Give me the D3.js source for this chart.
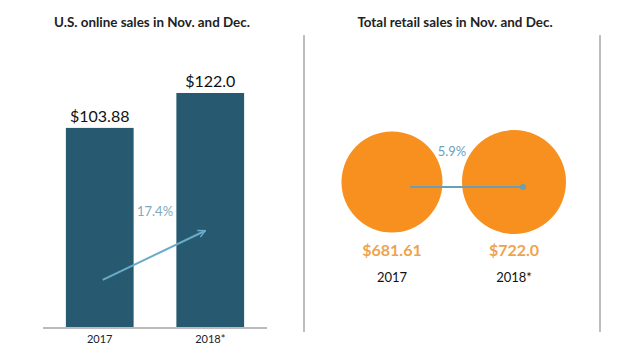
<!DOCTYPE html>
<html><head><meta charset="utf-8">
<script src="https://cdn.jsdelivr.net/npm/d3@7"></script>
<style>body{margin:0;background:#fff}svg{display:block}text{font-family:Lato,"Open Sans",sans-serif}</style>
</head><body>
<svg id="c" width="644" height="357"></svg>
<script>
const years = ["2017", "2018*"];
const onlineSales = [103.88, 122.0];
const onlineLabels = ["$103.88", "$122.0"];
const retailSales = [681.61, 722.0];
const retailLabels = ["$681.61", "$722.0"];
const onlineGrowth = "17.4%";
const retailGrowth = "5.9%";

const svg = d3.select("#c");
const barColor = "#275a70", orange = "#f7901e", blue = "#6aabc9";

// Left panel
const x = d3.scaleBand().domain(years).range([43, 267]).paddingInner(0.387).paddingOuter(0.207);
const y = d3.scaleLinear().domain([0, 122]).range([328, 93]);

svg.append("text").attr("x", 152).attr("y", 27).attr("text-anchor", "middle")
  .attr("font-size", 13.4).attr("font-weight", 700).attr("fill", "#222").text("U.S. online sales in Nov. and Dec.");

svg.selectAll("rect.bar").data(onlineSales).join("rect").attr("class", "bar")
  .attr("x", (d, i) => x(years[i])).attr("width", x.bandwidth())
  .attr("y", d => y(d)).attr("height", d => y(0) - y(d)).attr("fill", barColor);

svg.selectAll("text.blab").data(onlineSales).join("text").attr("class", "blab")
  .attr("x", (d, i) => x(years[i]) + x.bandwidth() / 2).attr("y", d => y(d) - 6)
  .attr("text-anchor", "middle").attr("font-size", 16).attr("fill", "#111")
  .text((d, i) => onlineLabels[i]);

const xAxis = svg.append("g").attr("transform", `translate(0,${y(0)})`)
  .call(d3.axisBottom(x).tickSize(0).tickPadding(7));
xAxis.select(".domain").attr("stroke", "#bbb").attr("stroke-width", 2).attr("d", "M43,0H267");
xAxis.selectAll("text").attr("font-size", 11).attr("fill", "#222").style("font-family", "Lato, sans-serif");

// growth arrow
const defs = svg.append("defs");
defs.append("marker").attr("id", "ah").attr("viewBox", "0 0 10 10").attr("refX", 9).attr("refY", 5)
  .attr("markerWidth", 9).attr("markerHeight", 9).attr("orient", "auto").attr("markerUnits", "userSpaceOnUse")
  .append("path").attr("d", "M1,1L9,5L1,9").attr("fill", "none").attr("stroke", blue).attr("stroke-width", 1.6);
const ax0 = x(years[0]) + x.bandwidth() / 2 + 3, ax1 = x(years[1]) + x.bandwidth() / 2 - 5;
svg.append("line").attr("x1", ax0).attr("y1", y(25)).attr("x2", ax1).attr("y2", y(50.5))
  .attr("stroke", blue).attr("stroke-width", 2).attr("marker-end", "url(#ah)");
svg.append("text").attr("x", (x(years[0]) + x(years[1]) + x.bandwidth()) / 2).attr("y", 216)
  .attr("text-anchor", "middle").attr("font-size", 13).attr("fill", "#7fa9c0").text(onlineGrowth);

// dividers
[304, 600].forEach(px => svg.append("line").attr("x1", px).attr("x2", px).attr("y1", 35).attr("y2", 332)
  .attr("stroke", "#bdbdbd").attr("stroke-width", 2));

// Right panel
svg.append("text").attr("x", 455).attr("y", 27).attr("text-anchor", "middle")
  .attr("font-size", 13.4).attr("font-weight", 700).attr("fill", "#222").text("Total retail sales in Nov. and Dec.");

const cx = d3.scalePoint().domain(years).range([392, 514]);
const r = d3.scaleSqrt().domain([0, 722]).range([0, 52]);
const cy = 182;

svg.selectAll("circle.c").data(retailSales).join("circle").attr("class", "c")
  .attr("cx", (d, i) => cx(years[i])).attr("cy", cy).attr("r", d => r(d)).attr("fill", orange);

svg.append("line").attr("x1", cx(years[0]) + 18).attr("x2", cx(years[1]) + 9).attr("y1", cy + 5).attr("y2", cy + 5)
  .attr("stroke", "#6b9fb5").attr("stroke-width", 2);
svg.append("circle").attr("cx", cx(years[1]) + 9).attr("cy", cy + 5).attr("r", 3).attr("fill", "#6b9fb5");
svg.append("text").attr("x", (cx(years[0]) + cx(years[1])) / 2 - 1).attr("y", 156)
  .attr("text-anchor", "middle").attr("font-size", 13).attr("fill", "#6f9fbc").text(retailGrowth);

svg.selectAll("text.rlab").data(retailSales).join("text").attr("class", "rlab")
  .attr("x", (d, i) => cx(years[i])).attr("y", 256).attr("text-anchor", "middle")
  .attr("font-size", 16).attr("font-weight", 700).attr("fill", "#efa34f").text((d, i) => retailLabels[i]);

svg.selectAll("text.ry").data(years).join("text").attr("class", "ry")
  .attr("x", d => cx(d)).attr("y", 282).attr("text-anchor", "middle")
  .attr("font-size", 13).attr("fill", "#111").text(d => d);
</script>
</body></html>
